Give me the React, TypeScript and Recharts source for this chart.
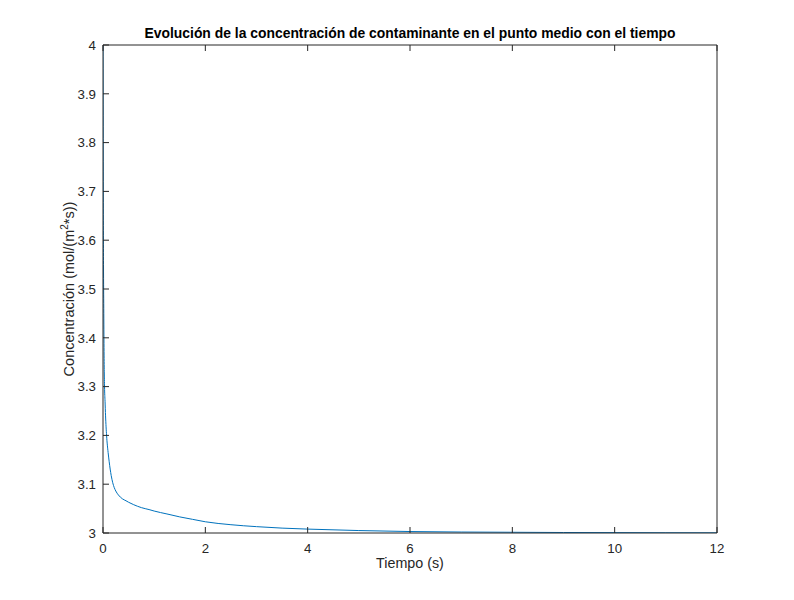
import React from "react";
import { LineChart, Line, XAxis, YAxis, Label } from "recharts";

// Tiempo (s) and concentración
const TIME = [
  0, 0.002, 0.005, 0.01, 0.015, 0.02, 0.03, 0.04, 0.05, 0.07, 0.1, 0.12, 0.14,
  0.16, 0.19, 0.22, 0.25, 0.3, 0.38, 0.45, 0.5, 0.6, 0.75, 0.9, 1, 1.25, 1.5,
  1.75, 2, 2.5, 3, 3.5, 4, 5, 6, 7, 8, 9, 10, 11, 12,
];
const CONCENTRATION = [
  4.0, 3.9, 3.72, 3.55, 3.46, 3.38, 3.3, 3.27, 3.24, 3.2, 3.165, 3.147, 3.131,
  3.118, 3.103, 3.093, 3.086, 3.078, 3.07, 3.066, 3.063, 3.058, 3.052, 3.048,
  3.045, 3.039, 3.033, 3.028, 3.023, 3.017, 3.013, 3.01, 3.008, 3.005, 3.003,
  3.002, 3.0015, 3.001, 3.0008, 3.0005, 3.0004,
];
const X_TICKS = [0, 2, 4, 6, 8, 10, 12];
const Y_TICKS = [3, 3.1, 3.2, 3.3, 3.4, 3.5, 3.6, 3.7, 3.8, 3.9, 4];

const TITLE =
  "Evolución de la concentración de contaminante en el punto medio con el tiempo";

const AXIS_COLOR = "#262626";
const FONT = "'Liberation Sans', Arial, Helvetica, sans-serif";

const data = TIME.map((t, i) => ({ t, c: CONCENTRATION[i] }));

// left tick labels sit just outside the box, right-aligned
function YTick({ y, payload }: { y?: number; payload?: any }) {
  return (
    <text
      x={96}
      y={y}
      dy="0.36em"
      textAnchor="end"
      fill={AXIS_COLOR}
      fontSize={13.3}
      fontFamily={FONT}
    >
      {payload?.value}
    </text>
  );
}

function YLabel({ viewBox }: { viewBox?: any }) {
  if (!viewBox) return null;
  const x = 74;
  const y = viewBox.y + viewBox.height / 2;
  return (
    <text
      x={x}
      y={y}
      transform={`rotate(-90, ${x}, ${y})`}
      textAnchor="middle"
      fill={AXIS_COLOR}
      fontSize={14.5}
      fontFamily={FONT}
    >
      <tspan>Concentración (mol/(m</tspan>
      <tspan dy={-6} fontSize={10}>
        2
      </tspan>
      <tspan dy={6}>*s))</tspan>
    </text>
  );
}

export default function App() {
  return (
    <div style={{ position: "absolute", left: 0, top: 0, background: "#fff" }}>
      <LineChart
        width={794}
        height={600}
        data={data}
        margin={{ top: 44, right: 76, bottom: 66, left: 102 }}
        style={{ fontFamily: FONT }}
      >
        <XAxis
          xAxisId="bottom"
          dataKey="t"
          type="number"
          domain={[0, 12]}
          ticks={X_TICKS}
          height={1}
          stroke={AXIS_COLOR}
          tickSize={-6}
          tickMargin={17}
          tick={{ fill: AXIS_COLOR, fontSize: 13.3 }}
          allowDataOverflow
        >
          <Label
            value="Tiempo (s)"
            position="bottom"
            offset={24}
            fill={AXIS_COLOR}
            fontSize={14.3}
          />
        </XAxis>
        <XAxis
          xAxisId="top"
          orientation="top"
          dataKey="t"
          type="number"
          domain={[0, 12]}
          ticks={X_TICKS}
          height={1}
          stroke={AXIS_COLOR}
          tickSize={-6}
          tickFormatter={() => ""}
        >
          <Label
            value={TITLE}
            position="top"
            offset={6}
            fill="#000"
            fontSize={13.9}
            fontWeight="bold"
          />
        </XAxis>
        <YAxis
          yAxisId="left"
          type="number"
          domain={[3, 4]}
          ticks={Y_TICKS}
          width={1}
          stroke={AXIS_COLOR}
          tickSize={-6}
          tick={<YTick />}
          allowDataOverflow
        >
          <Label content={<YLabel />} />
        </YAxis>
        <YAxis
          yAxisId="right"
          orientation="right"
          type="number"
          domain={[3, 4]}
          ticks={Y_TICKS}
          width={1}
          stroke={AXIS_COLOR}
          tickSize={-6}
          tickFormatter={() => ""}
        />
        <Line
          xAxisId="bottom"
          yAxisId="left"
          dataKey="c"
          type="monotoneX"
          stroke="#0072BD"
          strokeWidth={1}
          dot={false}
          isAnimationActive={false}
        />
      </LineChart>
    </div>
  );
}
